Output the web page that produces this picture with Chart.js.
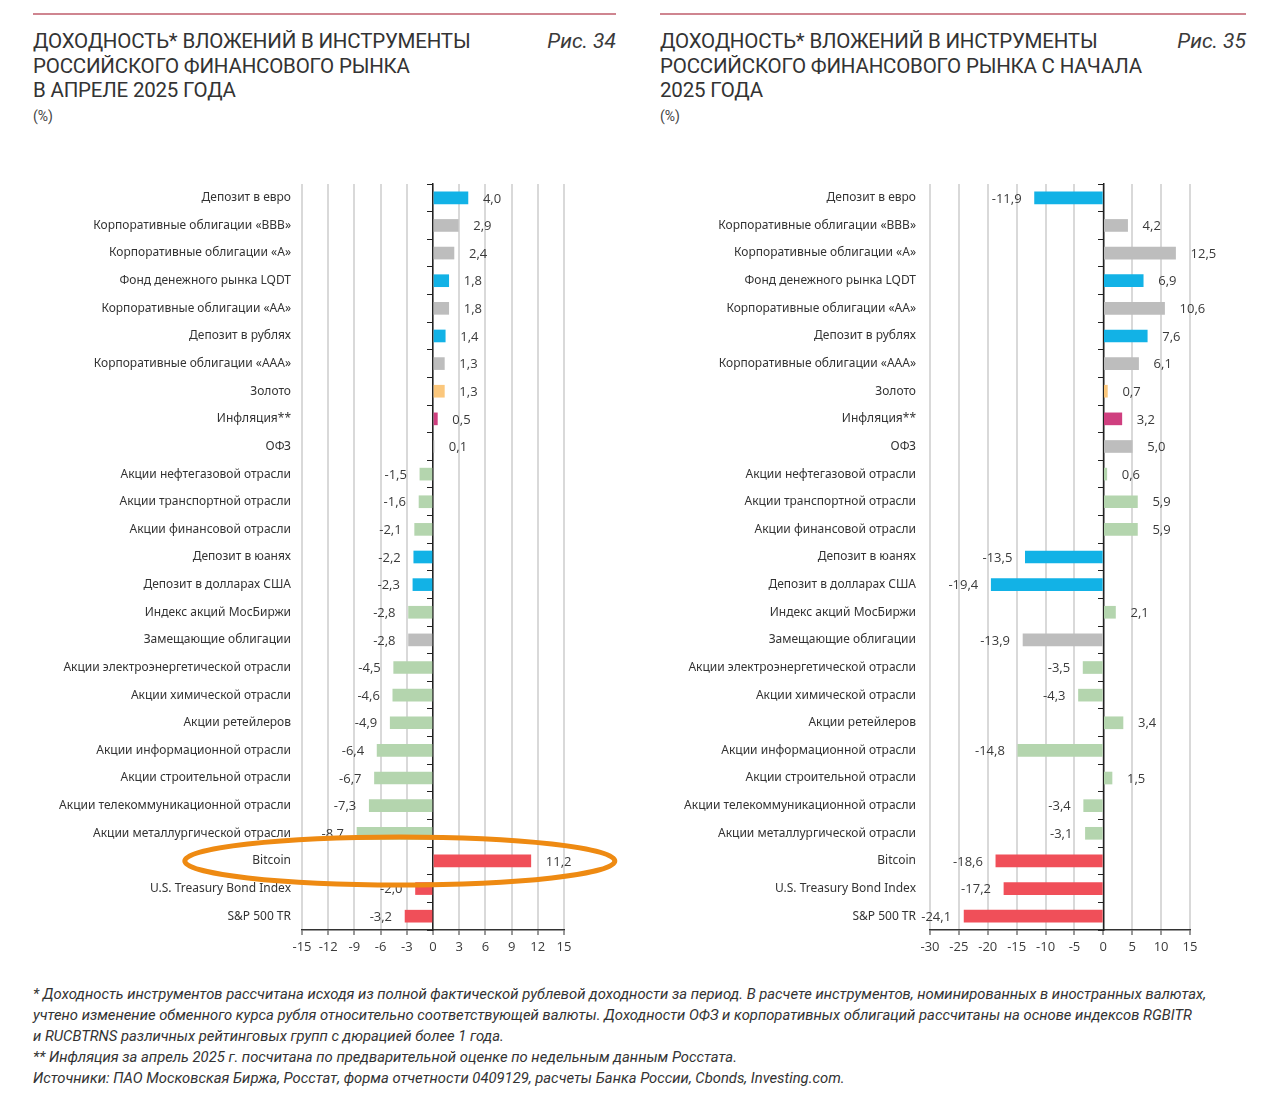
<!DOCTYPE html>
<html lang="ru">
<head>
<meta charset="utf-8">
<script src="https://cdn.jsdelivr.net/npm/chart.js@4"></script>
<style>
  html, body { margin: 0; padding: 0; background: #fff; }
  body { width: 1284px; height: 1109px; position: relative; overflow: hidden; font-family: Roboto, "Noto Sans", sans-serif; color: #333; }
  .rule { position: absolute; top: 13px; height: 2px; background: #cf8590; }
  .title { position: absolute; top: 29px; font-size: 20.5px; line-height: 24.5px; font-weight: 400; color: #333; white-space: nowrap; letter-spacing: -0.2px; }
  .unit { position: absolute; top: 108px; font-size: 14px; color: #444; }
  .fig { position: absolute; top: 29px; font-size: 21px; line-height: 24.5px; font-style: italic; color: #3a3a3a; text-align: right; }
  .chartbox { position: absolute; top: 170px; height: 800px; }
  .notes { position: absolute; left: 33px; top: 984px; font-size: 14.8px; line-height: 21px; font-style: italic; color: #333; white-space: nowrap; }
</style>
</head>
<body>
<div class="rule" style="left:33px;width:583px"></div>
<div class="rule" style="left:660px;width:586px"></div>

<div class="title" style="left:33px">ДОХОДНОСТЬ* ВЛОЖЕНИЙ В ИНСТРУМЕНТЫ<br>РОССИЙСКОГО ФИНАНСОВОГО РЫНКА<br>В АПРЕЛЕ 2025 ГОДА</div>
<div class="fig" style="left:500px;width:116px">Рис. 34</div>
<div class="unit" style="left:33px">(%)</div>

<div class="title" style="left:660px">ДОХОДНОСТЬ* ВЛОЖЕНИЙ В ИНСТРУМЕНТЫ<br>РОССИЙСКОГО ФИНАНСОВОГО РЫНКА С НАЧАЛА<br>2025 ГОДА</div>
<div class="fig" style="left:1130px;width:116px">Рис. 35</div>
<div class="unit" style="left:660px">(%)</div>

<div class="chartbox" style="left:0;width:640px"><canvas id="c1" width="640" height="800"></canvas></div>
<div class="chartbox" style="left:640px;width:644px"><canvas id="c2" width="644" height="800"></canvas></div>

<div class="notes">* Доходность инструментов рассчитана исходя из полной фактической рублевой доходности за период. В расчете инструментов, номинированных в иностранных валютах,<br>учтено изменение обменного курса рубля относительно соответствующей валюты. Доходности ОФЗ и корпоративных облигаций рассчитаны на основе индексов RGBITR<br>и RUCBTRNS различных рейтинговых групп с дюрацией более 1 года.<br>** Инфляция за апрель 2025 г. посчитана по предварительной оценке по недельным данным Росстата.<br>Источники: ПАО Московская Биржа, Росстат, форма отчетности 0409129, расчеты Банка России, Cbonds, Investing.com.</div>

<script>
const categories = [
  "Депозит в евро",
  "Корпоративные облигации «BBB»",
  "Корпоративные облигации «A»",
  "Фонд денежного рынка LQDT",
  "Корпоративные облигации «AA»",
  "Депозит в рублях",
  "Корпоративные облигации «AAA»",
  "Золото",
  "Инфляция**",
  "ОФЗ",
  "Акции нефтегазовой отрасли",
  "Акции транспортной отрасли",
  "Акции финансовой отрасли",
  "Депозит в юанях",
  "Депозит в долларах США",
  "Индекс акций МосБиржи",
  "Замещающие облигации",
  "Акции электроэнергетической отрасли",
  "Акции химической отрасли",
  "Акции ретейлеров",
  "Акции информационной отрасли",
  "Акции строительной отрасли",
  "Акции телекоммуникационной отрасли",
  "Акции металлургической отрасли",
  "Bitcoin",
  "U.S. Treasury Bond Index",
  "S&P 500 TR"
];

const aprilValues = [4.0, 2.9, 2.4, 1.8, 1.8, 1.4, 1.3, 1.3, 0.5, 0.1, -1.5, -1.6, -2.1, -2.2, -2.3, -2.8, -2.8, -4.5, -4.6, -4.9, -6.4, -6.7, -7.3, -8.7, 11.2, -2.0, -3.2];

const ytdValues = [-11.9, 4.2, 12.5, 6.9, 10.6, 7.6, 6.1, 0.7, 3.2, 5.0, 0.6, 5.9, 5.9, -13.5, -19.4, 2.1, -13.9, -3.5, -4.3, 3.4, -14.8, 1.5, -3.4, -3.1, -18.6, -17.2, -24.1];

const groups = ["deposit", "bond", "bond", "deposit", "bond", "deposit", "bond", "gold", "inflation", "bond",
  "equity", "equity", "equity", "deposit", "deposit", "equity", "bond",
  "equity", "equity", "equity", "equity", "equity", "equity", "equity",
  "foreign", "foreign", "foreign"];

const aprilTicks = { min: -15, max: 15, step: 3 };
const ytdTicks = { min: -30, max: 15, step: 5 };

const palette = {
  deposit: "#12b2e6",
  bond: "#bdbdbd",
  equity: "#b4d5ae",
  gold: "#fbc77c",
  inflation: "#cf3f7f",
  foreign: "#f04f59"
};

const fmt = v => v.toFixed(1).replace(".", ",");

const valueLabels = {
  id: "valueLabels",
  afterDatasetsDraw(chart) {
    const ctx = chart.ctx;
    const meta = chart.getDatasetMeta(0);
    const data = chart.data.datasets[0].data;
    ctx.save();
    ctx.font = "13px 'Open Sans', 'Noto Sans', sans-serif";
    ctx.fillStyle = "#3a3a3a";
    ctx.textBaseline = "middle";
    meta.data.forEach((bar, i) => {
      const v = data[i];
      if (v >= 0) {
        ctx.textAlign = "left";
        ctx.fillText(fmt(v), bar.x + 15, bar.y + 1);
      } else {
        ctx.textAlign = "right";
        ctx.fillText(fmt(v), bar.x - 13, bar.y + 1);
      }
    });
    ctx.restore();
  }
};

const highlight = {
  id: "highlight",
  afterDraw(chart, args, opts) {
    if (!opts || !opts.category) return;
    const idx = chart.data.labels.indexOf(opts.category);
    const cy = chart.scales.y.getPixelForValue(idx);
    const cx = chart.scales.x.getPixelForValue(opts.centerValue);
    const ctx = chart.ctx;
    ctx.save();
    ctx.beginPath();
    ctx.ellipse(cx, cy, opts.rx, opts.ry, 0, 0, Math.PI * 2);
    ctx.lineWidth = 5;
    ctx.strokeStyle = "#ee8a12";
    ctx.stroke();
    ctx.restore();
  }
};

function makeChart(id, values, tk, yWidth, padRight, labelPad, hl) {
  return new Chart(document.getElementById(id), {
    type: "bar",
    data: {
      labels: categories,
      datasets: [{
        data: values,
        backgroundColor: groups.map(g => palette[g]),
        borderWidth: 0,
        barThickness: 12
      }]
    },
    options: {
      indexAxis: "y",
      responsive: false,
      animation: false,
      devicePixelRatio: 1,
      layout: { padding: { top: 14, right: padRight, left: 0, bottom: 0 } },
      plugins: {
        legend: { display: false },
        tooltip: { enabled: false },
        highlight: hl || {}
      },
      scales: {
        x: {
          type: "linear",
          min: tk.min,
          max: tk.max,
          ticks: {
            stepSize: tk.step,
            color: "#3a3a3a",
            font: { size: 13, family: "'Open Sans', 'Noto Sans', sans-serif" },
            padding: 4,
            callback: v => String(v)
          },
          grid: { color: "#d9d9d9", lineWidth: 2, drawTicks: true, tickLength: 5, tickColor: "#333", tickWidth: 1 },
          border: { color: "#333", width: 1.5 },
          afterFit: s => { s.height = 40; }
        },
        y: {
          type: "category",
          position: "left",
          offset: true,
          ticks: {
            autoSkip: false,
            color: "#333",
            font: { size: 12, family: "'Noto Sans', sans-serif" },
            padding: labelPad
          },
          grid: { display: false, drawTicks: false },
          border: { display: false },
          afterFit: s => { s.width = yWidth; s.paddingTop = 0; s.paddingBottom = 0; }
        },
        yz: {
          type: "category",
          axis: "y",
          position: { x: 0 },
          offset: true,
          ticks: { display: false },
          grid: { drawOnChartArea: false, drawTicks: true, tickLength: 5, color: "#222", lineWidth: 1, offset: true },
          border: { color: "#222", width: 1.5 },
          afterFit: s => { s.paddingTop = 0; s.paddingBottom = 0; }
        }
      }
    },
    plugins: [valueLabels, highlight]
  });
}

makeChart("c1", aprilValues, aprilTicks, 302, 76, 11, { category: "Bitcoin", centerValue: -3.8, rx: 215, ry: 24 });
makeChart("c2", ytdValues, ytdTicks, 290, 94, 14, null);
</script>
</body>
</html>
